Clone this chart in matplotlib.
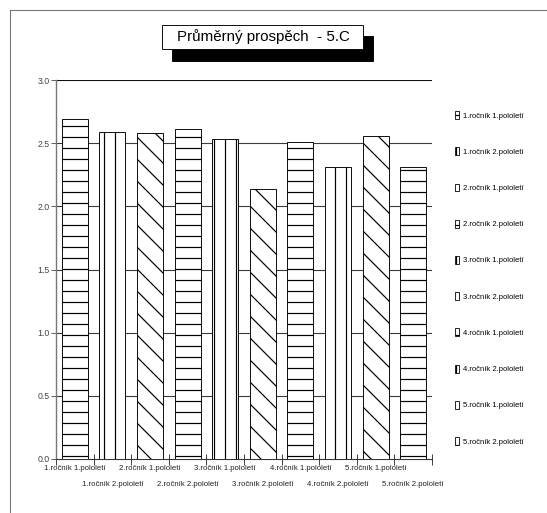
import matplotlib.pyplot as plt
from matplotlib.patches import Rectangle
from matplotlib.lines import Line2D
import numpy as np

# Average marks per class and term
categories = ['1.ročník 1.pololetí', '1.ročník 2.pololetí',
              '2.ročník 1.pololetí', '2.ročník 2.pololetí',
              '3.ročník 1.pololetí', '3.ročník 2.pololetí',
              '4.ročník 1.pololetí', '4.ročník 2.pololetí',
              '5.ročník 1.pololetí', '5.ročník 2.pololetí']
values = [2.69, 2.59, 2.58, 2.61, 2.53, 2.14, 2.51, 2.31, 2.56, 2.31]
hatches = ['-', '|', '\\', '-', '|', '\\', '-', '|', '\\', '-']
yticks = [0.0, 0.5, 1.0, 1.5, 2.0, 2.5, 3.0]
title = 'Průměrný prospěch  - 5.C'

plt.rcParams['font.family'] = ['Liberation Sans Narrow', 'Liberation Sans', 'DejaVu Sans']
plt.rcParams['hatch.linewidth'] = 1.3
plt.rcParams['hatch.color'] = 'black'

W, H, DPI = 547, 513, 66
fig = plt.figure(figsize=(W / DPI, H / DPI), dpi=DPI)
fig.patch.set_facecolor('white')

def px(x0, y0, x1, y1):
    # pixel box -> figure fraction rect
    return [x0 / W, 1 - y1 / H, (x1 - x0) / W, (y1 - y0) / H]

ax = fig.add_axes(px(56, 80, 432, 459))

x = np.arange(len(values)) + 0.5
for xi, v, h in zip(x, values, hatches):
    ax.bar(xi, v, width=0.69, facecolor='white', edgecolor='black',
           linewidth=1.0, hatch=h, zorder=3)

ax.set_xlim(0, len(values))
ax.set_ylim(0, 3.0)

# horizontal guide lines behind the bars
for yv in yticks[1:]:
    ax.axhline(yv, color='#111111' if yv == 3.0 else '#3a3a3a',
               lw=1.2, zorder=1)

ax.set_yticks(yticks)
ax.set_yticklabels([f'{t:.1f}' for t in yticks], fontsize=9.5, color='#444444')
ax.tick_params(axis='y', length=6, width=1.0, color='#555555', pad=1)

# category boundaries as ticks
ax.set_xticks(np.arange(len(values) + 1))
ax.set_xticklabels([])
ax.tick_params(axis='x', which='major', direction='inout', length=12,
               width=1.0, color='#333333')

# category names under bar centres, alternating in two rows
for i, (xi, c) in enumerate(zip(x, categories)):
    off = -10.5 if i % 2 == 0 else -27.5
    ax.annotate(c, xy=(xi, 0), xycoords=('data', 'axes fraction'),
                xytext=(0, off), textcoords='offset points',
                ha='center', va='center', fontsize=8.4, color='#222222',
                annotation_clip=False)

for s in ['top', 'right']:
    ax.spines[s].set_visible(False)
ax.spines['left'].set_color('#777777')
ax.spines['left'].set_linewidth(1.5)
ax.spines['bottom'].set_color('#333333')
ax.spines['bottom'].set_linewidth(1.2)

# legend on the right
handles = [Rectangle((0, 0), 1, 1, facecolor='white', edgecolor='black',
                     hatch=h, linewidth=0.9) for h in hatches]
fig.legend(handles, categories, loc='upper left',
           bbox_to_anchor=(452 / W, 1 - 108 / H), frameon=False,
           fontsize=8.3, handlelength=0.55, handleheight=1.2,
           handletextpad=0.5, labelspacing=3.65, borderaxespad=0)

# title box with drop shadow
fig.add_artist(Rectangle(px(172, 36, 373, 61)[:2], 201 / W, 25 / H,
                         transform=fig.transFigure, facecolor='black',
                         edgecolor='black', zorder=5))
fig.add_artist(Rectangle(px(162, 25, 363, 49)[:2], 201 / W, 24 / H,
                         transform=fig.transFigure, facecolor='white',
                         edgecolor='black', lw=1.0, zorder=6))
fig.text(263 / W, 1 - 37 / H, title, ha='center', va='center',
         fontsize=16.5, zorder=7)

# outer frame
fig.add_artist(Line2D([10 / W, 10 / W], [0, 1 - 10 / H],
                      transform=fig.transFigure, color='#777777', lw=1.2))
fig.add_artist(Line2D([10 / W, 1], [1 - 10 / H, 1 - 10 / H],
                      transform=fig.transFigure, color='#777777', lw=1.2))

fig.savefig('out.png', dpi=DPI)
